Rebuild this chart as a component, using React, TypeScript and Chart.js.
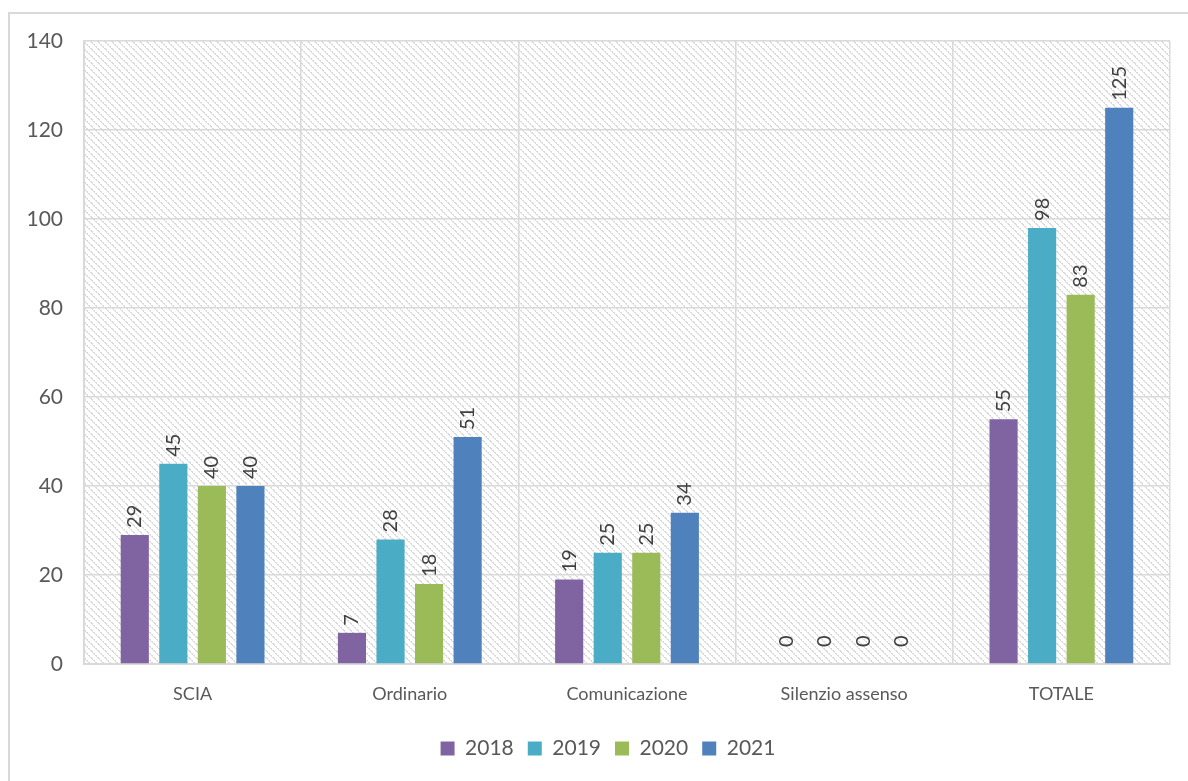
import React, { useEffect, useRef } from "react";
import { Chart, registerables } from "chart.js";

Chart.register(...registerables);

const categories = ["SCIA", "Ordinario", "Comunicazione", "Silenzio assenso", "TOTALE"];
const years = ["2018", "2019", "2020", "2021"];
const values2018 = [29, 7, 19, 0, 55];
const values2019 = [45, 28, 25, 0, 98];
const values2020 = [40, 18, 25, 0, 83];
const values2021 = [40, 51, 34, 0, 125];
const colors = ["#8064a2", "#4bacc6", "#9bbb59", "#4f81bd"];
const yTicks = [0, 20, 40, 60, 80, 100, 120, 140];

const FONT = "Lato, 'Liberation Sans', sans-serif";
const TEXT = "#595959";

function makePattern(ctx: CanvasRenderingContext2D) {
  const c = document.createElement("canvas");
  c.width = 7;
  c.height = 7;
  const p = c.getContext("2d")!;
  p.fillStyle = "#ffffff";
  p.fillRect(0, 0, 7, 7);
  p.fillStyle = "#dadada";
  for (let i = 0; i < 7; i++) {
    p.fillRect(i, i, 1, 1);
    if (i % 2 === 0) p.fillRect((i + 1) % 7, i, 1, 1);
  }
  return ctx.createPattern(c, "repeat");
}

const hatchPlugin = {
  id: "hatchBg",
  beforeDraw(chart: any) {
    const { ctx, chartArea } = chart;
    if (!chartArea) return;
    const pat = makePattern(ctx);
    ctx.save();
    ctx.fillStyle = pat as any;
    ctx.fillRect(chartArea.left, chartArea.top, chartArea.right - chartArea.left, chartArea.bottom - chartArea.top);
    ctx.restore();
  },
};

const legendShiftPlugin = {
  id: "legendShift",
  afterLayout(chart: any) {
    const lg = chart.legend;
    if (lg) {
      lg.left += 23;
      lg.right += 23;
    }
  },
};

const labelPlugin = {
  id: "barLabels",
  afterDatasetsDraw(chart: any) {
    const { ctx } = chart;
    ctx.save();
    ctx.font = `20px ${FONT}`;
    ctx.fillStyle = "#404040";
    ctx.textAlign = "left";
    ctx.textBaseline = "middle";
    chart.data.datasets.forEach((ds: any, di: number) => {
      const meta = chart.getDatasetMeta(di);
      meta.data.forEach((bar: any, i: number) => {
        const v = ds.data[i];
        ctx.save();
        ctx.translate(bar.x, bar.y - (v === 0 ? 17 : 7));
        ctx.rotate(-Math.PI / 2);
        ctx.fillText(String(v), 0, 0);
        ctx.restore();
      });
    });
    ctx.restore();
  },
};

export default function App() {
  const ref = useRef<HTMLCanvasElement | null>(null);

  useEffect(() => {
    document.body.style.margin = "0";
    const chart = new Chart(ref.current!, {
      type: "bar",
      data: {
        labels: categories,
        datasets: [values2018, values2019, values2020, values2021].map((d, i) => ({
          label: years[i],
          data: d,
          backgroundColor: colors[i],
          borderWidth: 0,
          categoryPercentage: 0.71,
          barPercentage: 0.73,
        })),
      },
      options: {
        animation: false,
        responsive: true,
        maintainAspectRatio: false,
        layout: { padding: { top: 41, right: 18, bottom: 12, left: 0 } },
        plugins: {
          tooltip: { enabled: false },
          legend: {
            position: "bottom",
            labels: {
              boxWidth: 14,
              boxHeight: 14,
              padding: 14,
              color: TEXT,
              font: { family: FONT, size: 21 },
            },
          },
        },
        scales: {
          x: {
            grid: { color: "#d9d9d9", lineWidth: 1.5, drawTicks: false, offset: true },
            border: { color: "#d9d9d9", width: 2 },
            ticks: { color: TEXT, font: { family: FONT, size: 18 }, padding: 19 },
            afterFit: (s: any) => {
              s.height = 60;
            },
          },
          y: {
            min: 0,
            max: 140,
            afterBuildTicks: (s: any) => {
              s.ticks = yTicks.map((v) => ({ value: v }));
            },
            grid: { color: "#d9d9d9", lineWidth: 1.5, drawTicks: false },
            border: { color: "#d9d9d9", width: 2 },
            ticks: { color: TEXT, font: { family: FONT, size: 21 }, padding: 21 },
            afterFit: (s: any) => {
              s.width = 84;
            },
          },
        },
      },
      plugins: [hatchPlugin, labelPlugin, legendShiftPlugin],
    } as any);
    return () => chart.destroy();
  }, []);

  return (
    <div style={{ position: "relative", width: 1188, height: 781, overflow: "hidden", background: "#fff" }}>
      <div
        style={{
          position: "absolute",
          left: 8,
          top: 12,
          width: 1200,
          height: 800,
          borderLeft: "2px solid #d9d9d9",
          borderTop: "2px solid #d9d9d9",
        }}
      />
      <div style={{ position: "absolute", left: 0, top: 0, width: 1188, height: 781 }}>
        <canvas ref={ref} />
      </div>
    </div>
  );
}
